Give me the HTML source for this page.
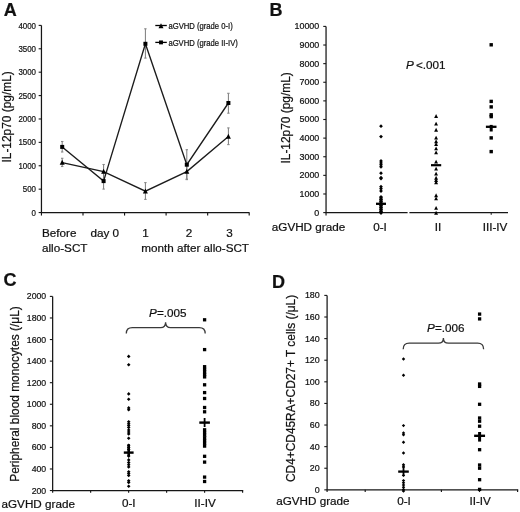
<!DOCTYPE html><html><head><meta charset="utf-8"><style>html,body{margin:0;padding:0;background:#fff;overflow:hidden;}svg{display:block;filter:grayscale(1);}text{font-family:"Liberation Sans",sans-serif;fill:#111;stroke:#111;stroke-width:0.22px;}</style></head><body>
<svg width="520" height="512" viewBox="0 0 520 512">
<rect width="520" height="512" fill="#fff"/>
<text x="3.70" y="15.80" font-size="18" text-anchor="start" font-weight="bold" font-style="normal" >A</text>
<line x1="41.45" y1="25.40" x2="41.45" y2="212.55" stroke="#161616" stroke-width="1.25"/>
<line x1="38.65" y1="212.55" x2="41.45" y2="212.55" stroke="#161616" stroke-width="1.1"/>
<text transform="translate(36.00,215.65) scale(0.87,1)" font-size="9.1" text-anchor="end">0</text>
<line x1="38.65" y1="189.16" x2="41.45" y2="189.16" stroke="#161616" stroke-width="1.1"/>
<text transform="translate(36.00,192.26) scale(0.87,1)" font-size="9.1" text-anchor="end">500</text>
<line x1="38.65" y1="165.76" x2="41.45" y2="165.76" stroke="#161616" stroke-width="1.1"/>
<text transform="translate(36.00,168.86) scale(0.87,1)" font-size="9.1" text-anchor="end">1000</text>
<line x1="38.65" y1="142.37" x2="41.45" y2="142.37" stroke="#161616" stroke-width="1.1"/>
<text transform="translate(36.00,145.47) scale(0.87,1)" font-size="9.1" text-anchor="end">1500</text>
<line x1="38.65" y1="118.98" x2="41.45" y2="118.98" stroke="#161616" stroke-width="1.1"/>
<text transform="translate(36.00,122.08) scale(0.87,1)" font-size="9.1" text-anchor="end">2000</text>
<line x1="38.65" y1="95.58" x2="41.45" y2="95.58" stroke="#161616" stroke-width="1.1"/>
<text transform="translate(36.00,98.68) scale(0.87,1)" font-size="9.1" text-anchor="end">2500</text>
<line x1="38.65" y1="72.19" x2="41.45" y2="72.19" stroke="#161616" stroke-width="1.1"/>
<text transform="translate(36.00,75.29) scale(0.87,1)" font-size="9.1" text-anchor="end">3000</text>
<line x1="38.65" y1="48.79" x2="41.45" y2="48.79" stroke="#161616" stroke-width="1.1"/>
<text transform="translate(36.00,51.89) scale(0.87,1)" font-size="9.1" text-anchor="end">3500</text>
<line x1="38.65" y1="25.40" x2="41.45" y2="25.40" stroke="#161616" stroke-width="1.1"/>
<text transform="translate(36.00,28.50) scale(0.87,1)" font-size="9.1" text-anchor="end">4000</text>
<line x1="40.85" y1="212.55" x2="249.40" y2="212.55" stroke="#161616" stroke-width="1.25"/>
<line x1="41.45" y1="212.55" x2="41.45" y2="215.55" stroke="#161616" stroke-width="1.15"/>
<line x1="83.00" y1="212.55" x2="83.00" y2="215.55" stroke="#161616" stroke-width="1.15"/>
<line x1="124.55" y1="212.55" x2="124.55" y2="215.55" stroke="#161616" stroke-width="1.15"/>
<line x1="166.10" y1="212.55" x2="166.10" y2="215.55" stroke="#161616" stroke-width="1.15"/>
<line x1="207.65" y1="212.55" x2="207.65" y2="215.55" stroke="#161616" stroke-width="1.15"/>
<line x1="249.20" y1="212.55" x2="249.20" y2="215.55" stroke="#161616" stroke-width="1.15"/>
<text x="0" y="0" font-size="11.9" text-anchor="middle" transform="translate(11.30,116.90) rotate(-90)">IL-12p70 (pg/mL)</text>
<text x="42.00" y="237.00" font-size="11.7" text-anchor="start" font-weight="normal" font-style="normal" >Before</text>
<text x="90.40" y="237.00" font-size="11.7" text-anchor="start" font-weight="normal" font-style="normal" >day 0</text>
<text x="145.50" y="237.00" font-size="11.7" text-anchor="middle" font-weight="normal" font-style="normal" >1</text>
<text x="189.00" y="237.00" font-size="11.7" text-anchor="middle" font-weight="normal" font-style="normal" >2</text>
<text x="229.50" y="237.00" font-size="11.7" text-anchor="middle" font-weight="normal" font-style="normal" >3</text>
<text x="42.00" y="251.50" font-size="11.7" text-anchor="start" font-weight="normal" font-style="normal" >allo-SCT</text>
<text x="141.20" y="251.50" font-size="11.7" text-anchor="start" font-weight="normal" font-style="normal" >month after allo-SCT</text>
<line x1="62.20" y1="141.50" x2="62.20" y2="152.00" stroke="#7a7a7a" stroke-width="1.0"/>
<line x1="61.00" y1="141.50" x2="63.40" y2="141.50" stroke="#888" stroke-width="1.1"/>
<line x1="61.00" y1="152.00" x2="63.40" y2="152.00" stroke="#888" stroke-width="1.1"/>
<line x1="62.20" y1="158.30" x2="62.20" y2="166.50" stroke="#7a7a7a" stroke-width="1.0"/>
<line x1="61.00" y1="158.30" x2="63.40" y2="158.30" stroke="#888" stroke-width="1.1"/>
<line x1="61.00" y1="166.50" x2="63.40" y2="166.50" stroke="#888" stroke-width="1.1"/>
<line x1="103.60" y1="173.00" x2="103.60" y2="189.10" stroke="#7a7a7a" stroke-width="1.0"/>
<line x1="102.40" y1="173.00" x2="104.80" y2="173.00" stroke="#888" stroke-width="1.1"/>
<line x1="102.40" y1="189.10" x2="104.80" y2="189.10" stroke="#888" stroke-width="1.1"/>
<line x1="103.60" y1="164.50" x2="103.60" y2="179.00" stroke="#7a7a7a" stroke-width="1.0"/>
<line x1="102.40" y1="164.50" x2="104.80" y2="164.50" stroke="#888" stroke-width="1.1"/>
<line x1="102.40" y1="179.00" x2="104.80" y2="179.00" stroke="#888" stroke-width="1.1"/>
<line x1="145.40" y1="28.80" x2="145.40" y2="58.10" stroke="#7a7a7a" stroke-width="1.0"/>
<line x1="144.20" y1="28.80" x2="146.60" y2="28.80" stroke="#888" stroke-width="1.1"/>
<line x1="144.20" y1="58.10" x2="146.60" y2="58.10" stroke="#888" stroke-width="1.1"/>
<line x1="145.40" y1="182.60" x2="145.40" y2="199.40" stroke="#7a7a7a" stroke-width="1.0"/>
<line x1="144.20" y1="182.60" x2="146.60" y2="182.60" stroke="#888" stroke-width="1.1"/>
<line x1="144.20" y1="199.40" x2="146.60" y2="199.40" stroke="#888" stroke-width="1.1"/>
<line x1="186.80" y1="149.70" x2="186.80" y2="179.60" stroke="#7a7a7a" stroke-width="1.0"/>
<line x1="185.60" y1="149.70" x2="188.00" y2="149.70" stroke="#888" stroke-width="1.1"/>
<line x1="185.60" y1="179.60" x2="188.00" y2="179.60" stroke="#888" stroke-width="1.1"/>
<line x1="186.80" y1="164.30" x2="186.80" y2="179.10" stroke="#7a7a7a" stroke-width="1.0"/>
<line x1="185.60" y1="164.30" x2="188.00" y2="164.30" stroke="#888" stroke-width="1.1"/>
<line x1="185.60" y1="179.10" x2="188.00" y2="179.10" stroke="#888" stroke-width="1.1"/>
<line x1="228.40" y1="93.30" x2="228.40" y2="113.20" stroke="#7a7a7a" stroke-width="1.0"/>
<line x1="227.20" y1="93.30" x2="229.60" y2="93.30" stroke="#888" stroke-width="1.1"/>
<line x1="227.20" y1="113.20" x2="229.60" y2="113.20" stroke="#888" stroke-width="1.1"/>
<line x1="228.40" y1="127.90" x2="228.40" y2="144.60" stroke="#7a7a7a" stroke-width="1.0"/>
<line x1="227.20" y1="127.90" x2="229.60" y2="127.90" stroke="#888" stroke-width="1.1"/>
<line x1="227.20" y1="144.60" x2="229.60" y2="144.60" stroke="#888" stroke-width="1.1"/>
<polyline points="62.20,146.90 103.60,181.10 145.40,43.80 186.80,164.70 228.40,103.00" fill="none" stroke="#1c1c1c" stroke-width="1.35" stroke-linejoin="miter"/>
<polyline points="62.20,162.60 103.60,171.60 145.40,191.20 186.80,171.60 228.40,136.60" fill="none" stroke="#1c1c1c" stroke-width="1.35"/>
<rect x="60.20" y="144.90" width="4.0" height="4.0" fill="#000"/>
<rect x="101.60" y="179.10" width="4.0" height="4.0" fill="#000"/>
<rect x="143.40" y="41.80" width="4.0" height="4.0" fill="#000"/>
<rect x="184.80" y="162.70" width="4.0" height="4.0" fill="#000"/>
<rect x="226.40" y="101.00" width="4.0" height="4.0" fill="#000"/>
<path d="M62.20 159.85L64.70 164.85L59.70 164.85Z" fill="#000"/>
<path d="M103.60 168.85L106.10 173.85L101.10 173.85Z" fill="#000"/>
<path d="M145.40 188.45L147.90 193.45L142.90 193.45Z" fill="#000"/>
<path d="M186.80 168.85L189.30 173.85L184.30 173.85Z" fill="#000"/>
<path d="M228.40 133.85L230.90 138.85L225.90 138.85Z" fill="#000"/>
<line x1="155.30" y1="25.50" x2="166.80" y2="25.50" stroke="#000" stroke-width="1.3"/>
<path d="M161.00 23.25L163.50 28.25L158.50 28.25Z" fill="#000"/>
<text x="168.40" y="29.20" font-size="8.8" text-anchor="start" font-weight="normal" font-style="normal" textLength="64.4" lengthAdjust="spacingAndGlyphs">aGVHD (grade 0-I)</text>
<line x1="155.30" y1="42.40" x2="166.80" y2="42.40" stroke="#000" stroke-width="1.3"/>
<rect x="159.05" y="40.45" width="3.9" height="3.9" fill="#000"/>
<text x="168.40" y="46.00" font-size="8.8" text-anchor="start" font-weight="normal" font-style="normal" textLength="69.4" lengthAdjust="spacingAndGlyphs">aGVHD (grade II-IV)</text>
<text x="269.60" y="15.90" font-size="18" text-anchor="start" font-weight="bold" font-style="normal" >B</text>
<line x1="326.05" y1="26.40" x2="326.05" y2="212.60" stroke="#161616" stroke-width="1.25"/>
<line x1="323.25" y1="212.60" x2="326.05" y2="212.60" stroke="#161616" stroke-width="1.1"/>
<text transform="translate(319.30,215.50) scale(0.96,1)" font-size="9.3" text-anchor="end">0</text>
<line x1="323.25" y1="193.98" x2="326.05" y2="193.98" stroke="#161616" stroke-width="1.1"/>
<text transform="translate(319.30,196.88) scale(0.96,1)" font-size="9.3" text-anchor="end">1000</text>
<line x1="323.25" y1="175.36" x2="326.05" y2="175.36" stroke="#161616" stroke-width="1.1"/>
<text transform="translate(319.30,178.26) scale(0.96,1)" font-size="9.3" text-anchor="end">2000</text>
<line x1="323.25" y1="156.74" x2="326.05" y2="156.74" stroke="#161616" stroke-width="1.1"/>
<text transform="translate(319.30,159.64) scale(0.96,1)" font-size="9.3" text-anchor="end">3000</text>
<line x1="323.25" y1="138.12" x2="326.05" y2="138.12" stroke="#161616" stroke-width="1.1"/>
<text transform="translate(319.30,141.02) scale(0.96,1)" font-size="9.3" text-anchor="end">4000</text>
<line x1="323.25" y1="119.50" x2="326.05" y2="119.50" stroke="#161616" stroke-width="1.1"/>
<text transform="translate(319.30,122.40) scale(0.96,1)" font-size="9.3" text-anchor="end">5000</text>
<line x1="323.25" y1="100.88" x2="326.05" y2="100.88" stroke="#161616" stroke-width="1.1"/>
<text transform="translate(319.30,103.78) scale(0.96,1)" font-size="9.3" text-anchor="end">6000</text>
<line x1="323.25" y1="82.26" x2="326.05" y2="82.26" stroke="#161616" stroke-width="1.1"/>
<text transform="translate(319.30,85.16) scale(0.96,1)" font-size="9.3" text-anchor="end">7000</text>
<line x1="323.25" y1="63.64" x2="326.05" y2="63.64" stroke="#161616" stroke-width="1.1"/>
<text transform="translate(319.30,66.54) scale(0.96,1)" font-size="9.3" text-anchor="end">8000</text>
<line x1="323.25" y1="45.02" x2="326.05" y2="45.02" stroke="#161616" stroke-width="1.1"/>
<text transform="translate(319.30,47.92) scale(0.96,1)" font-size="9.3" text-anchor="end">9000</text>
<line x1="323.25" y1="26.40" x2="326.05" y2="26.40" stroke="#161616" stroke-width="1.1"/>
<text transform="translate(319.30,29.30) scale(0.96,1)" font-size="9.3" text-anchor="end">10000</text>
<line x1="325.45" y1="212.60" x2="407.60" y2="212.60" stroke="#161616" stroke-width="1.25"/>
<line x1="409.40" y1="212.60" x2="508.00" y2="212.60" stroke="#161616" stroke-width="1.25"/>
<line x1="326.05" y1="212.60" x2="326.05" y2="215.60" stroke="#161616" stroke-width="1.15"/>
<line x1="491.20" y1="212.60" x2="491.20" y2="214.80" stroke="#161616" stroke-width="1.0"/>
<text x="0" y="0" font-size="11.9" text-anchor="middle" transform="translate(290.00,117.90) rotate(-90)">IL-12p70 (pg/mL)</text>
<text x="271.80" y="231.20" font-size="11.7" text-anchor="start" font-weight="normal" font-style="normal" >aGVHD grade</text>
<text x="380.00" y="231.20" font-size="11.7" text-anchor="middle" font-weight="normal" font-style="normal" >0-I</text>
<text x="438.00" y="231.20" font-size="11.7" text-anchor="middle" font-weight="normal" font-style="normal" >II</text>
<text x="495.00" y="231.20" font-size="11.7" text-anchor="middle" font-weight="normal" font-style="normal" >III-IV</text>
<text x="405.90" y="69.00" font-size="11.7" text-anchor="start" font-weight="normal" font-style="italic" >P</text>
<text x="416.00" y="69.00" font-size="11.7" text-anchor="start" font-weight="normal" font-style="normal" >&lt;.001</text>
<path d="M381.00 124.30L382.90 126.20L381.00 128.10L379.10 126.20Z" fill="#000"/>
<path d="M381.00 134.70L382.90 136.60L381.00 138.50L379.10 136.60Z" fill="#000"/>
<path d="M381.00 159.10L382.90 161.00L381.00 162.90L379.10 161.00Z" fill="#000"/>
<path d="M381.00 161.00L382.90 162.90L381.00 164.80L379.10 162.90Z" fill="#000"/>
<path d="M381.00 162.90L382.90 164.80L381.00 166.70L379.10 164.80Z" fill="#000"/>
<path d="M381.00 164.90L382.90 166.80L381.00 168.70L379.10 166.80Z" fill="#000"/>
<path d="M381.00 171.30L382.90 173.20L381.00 175.10L379.10 173.20Z" fill="#000"/>
<path d="M381.00 175.80L382.90 177.70L381.00 179.60L379.10 177.70Z" fill="#000"/>
<path d="M381.00 176.70L382.90 178.60L381.00 180.50L379.10 178.60Z" fill="#000"/>
<path d="M381.00 184.80L382.90 186.70L381.00 188.60L379.10 186.70Z" fill="#000"/>
<path d="M381.00 186.80L382.90 188.70L381.00 190.60L379.10 188.70Z" fill="#000"/>
<path d="M381.00 189.10L382.90 191.00L381.00 192.90L379.10 191.00Z" fill="#000"/>
<path d="M381.00 195.10L382.90 197.00L381.00 198.90L379.10 197.00Z" fill="#000"/>
<path d="M381.00 197.60L382.90 199.50L381.00 201.40L379.10 199.50Z" fill="#000"/>
<path d="M381.00 199.60L382.90 201.50L381.00 203.40L379.10 201.50Z" fill="#000"/>
<path d="M381.00 201.60L382.90 203.50L381.00 205.40L379.10 203.50Z" fill="#000"/>
<path d="M381.00 203.60L382.90 205.50L381.00 207.40L379.10 205.50Z" fill="#000"/>
<path d="M381.00 205.60L382.90 207.50L381.00 209.40L379.10 207.50Z" fill="#000"/>
<path d="M381.00 207.60L382.90 209.50L381.00 211.40L379.10 209.50Z" fill="#000"/>
<path d="M381.00 209.60L382.90 211.50L381.00 213.40L379.10 211.50Z" fill="#000"/>
<path d="M381.00 211.10L382.90 213.00L381.00 214.90L379.10 213.00Z" fill="#000"/>
<rect x="376.00" y="202.65" width="10.0" height="2.3" fill="#000"/>
<rect x="379.50" y="196.6" width="3.0" height="16.4" fill="#000"/>
<path d="M436.10 114.06L438.05 117.95L434.15 117.95Z" fill="#000"/>
<path d="M436.10 121.66L438.05 125.55L434.15 125.55Z" fill="#000"/>
<path d="M436.10 127.86L438.05 131.75L434.15 131.75Z" fill="#000"/>
<path d="M436.10 135.66L438.05 139.56L434.15 139.56Z" fill="#000"/>
<path d="M436.10 139.35L438.05 143.25L434.15 143.25Z" fill="#000"/>
<path d="M436.10 142.05L438.05 145.95L434.15 145.95Z" fill="#000"/>
<path d="M436.10 146.45L438.05 150.35L434.15 150.35Z" fill="#000"/>
<path d="M436.10 150.45L438.05 154.35L434.15 154.35Z" fill="#000"/>
<path d="M436.10 159.66L438.05 163.56L434.15 163.56Z" fill="#000"/>
<path d="M436.10 166.66L438.05 170.56L434.15 170.56Z" fill="#000"/>
<path d="M436.10 171.66L438.05 175.56L434.15 175.56Z" fill="#000"/>
<path d="M436.10 175.85L438.05 179.75L434.15 179.75Z" fill="#000"/>
<path d="M436.10 178.05L438.05 181.95L434.15 181.95Z" fill="#000"/>
<path d="M436.10 180.25L438.05 184.16L434.15 184.16Z" fill="#000"/>
<path d="M436.10 193.25L438.05 197.16L434.15 197.16Z" fill="#000"/>
<path d="M436.10 196.45L438.05 200.35L434.15 200.35Z" fill="#000"/>
<path d="M436.10 205.95L438.05 209.85L434.15 209.85Z" fill="#000"/>
<path d="M436.10 210.85L438.05 214.75L434.15 214.75Z" fill="#000"/>
<rect x="431.00" y="164.10" width="10.2" height="2.2" fill="#000"/>
<rect x="489.50" y="43.10" width="3.4" height="3.4" fill="#000"/>
<rect x="489.50" y="99.70" width="3.4" height="3.4" fill="#000"/>
<rect x="489.50" y="105.20" width="3.4" height="3.4" fill="#000"/>
<rect x="489.50" y="113.10" width="3.4" height="3.4" fill="#000"/>
<rect x="489.50" y="114.90" width="3.4" height="3.4" fill="#000"/>
<rect x="489.50" y="136.20" width="3.4" height="3.4" fill="#000"/>
<rect x="489.50" y="149.90" width="3.4" height="3.4" fill="#000"/>
<rect x="485.90" y="125.65" width="10.6" height="2.3" fill="#000"/>
<rect x="489.70" y="124.9" width="3.0" height="6.6" fill="#000"/>
<text x="3.60" y="286.30" font-size="18" text-anchor="start" font-weight="bold" font-style="normal" >C</text>
<line x1="52.65" y1="296.40" x2="52.65" y2="490.55" stroke="#161616" stroke-width="1.25"/>
<line x1="49.85" y1="490.55" x2="52.65" y2="490.55" stroke="#161616" stroke-width="1.1"/>
<text transform="translate(46.20,493.55) scale(0.9,1)" font-size="9.7" text-anchor="end">200</text>
<line x1="49.85" y1="468.98" x2="52.65" y2="468.98" stroke="#161616" stroke-width="1.1"/>
<text transform="translate(46.20,471.98) scale(0.9,1)" font-size="9.7" text-anchor="end">400</text>
<line x1="49.85" y1="447.41" x2="52.65" y2="447.41" stroke="#161616" stroke-width="1.1"/>
<text transform="translate(46.20,450.41) scale(0.9,1)" font-size="9.7" text-anchor="end">600</text>
<line x1="49.85" y1="425.83" x2="52.65" y2="425.83" stroke="#161616" stroke-width="1.1"/>
<text transform="translate(46.20,428.83) scale(0.9,1)" font-size="9.7" text-anchor="end">800</text>
<line x1="49.85" y1="404.26" x2="52.65" y2="404.26" stroke="#161616" stroke-width="1.1"/>
<text transform="translate(46.20,407.26) scale(0.9,1)" font-size="9.7" text-anchor="end">1000</text>
<line x1="49.85" y1="382.69" x2="52.65" y2="382.69" stroke="#161616" stroke-width="1.1"/>
<text transform="translate(46.20,385.69) scale(0.9,1)" font-size="9.7" text-anchor="end">1200</text>
<line x1="49.85" y1="361.12" x2="52.65" y2="361.12" stroke="#161616" stroke-width="1.1"/>
<text transform="translate(46.20,364.12) scale(0.9,1)" font-size="9.7" text-anchor="end">1400</text>
<line x1="49.85" y1="339.54" x2="52.65" y2="339.54" stroke="#161616" stroke-width="1.1"/>
<text transform="translate(46.20,342.54) scale(0.9,1)" font-size="9.7" text-anchor="end">1600</text>
<line x1="49.85" y1="317.97" x2="52.65" y2="317.97" stroke="#161616" stroke-width="1.1"/>
<text transform="translate(46.20,320.97) scale(0.9,1)" font-size="9.7" text-anchor="end">1800</text>
<line x1="49.85" y1="296.40" x2="52.65" y2="296.40" stroke="#161616" stroke-width="1.1"/>
<text transform="translate(46.20,299.40) scale(0.9,1)" font-size="9.7" text-anchor="end">2000</text>
<line x1="52.05" y1="490.55" x2="243.20" y2="490.55" stroke="#161616" stroke-width="1.25"/>
<line x1="52.65" y1="490.55" x2="52.65" y2="492.75" stroke="#161616" stroke-width="1.15"/>
<line x1="90.64" y1="490.55" x2="90.64" y2="492.75" stroke="#161616" stroke-width="1.15"/>
<line x1="128.63" y1="490.55" x2="128.63" y2="492.75" stroke="#161616" stroke-width="1.15"/>
<line x1="166.62" y1="490.55" x2="166.62" y2="492.75" stroke="#161616" stroke-width="1.15"/>
<line x1="204.61" y1="490.55" x2="204.61" y2="492.75" stroke="#161616" stroke-width="1.15"/>
<line x1="242.60" y1="490.55" x2="242.60" y2="492.75" stroke="#161616" stroke-width="1.15"/>
<text x="0" y="0" font-size="11.9" text-anchor="middle" transform="translate(18.90,394.00) rotate(-90)">Peripheral blood monocytes (/&#956;L)</text>
<text x="1.50" y="507.50" font-size="11.7" text-anchor="start" font-weight="normal" font-style="normal" >aGVHD grade</text>
<text x="128.70" y="507.20" font-size="11.7" text-anchor="middle" font-weight="normal" font-style="normal" >0-I</text>
<text x="205.00" y="507.20" font-size="11.7" text-anchor="middle" font-weight="normal" font-style="normal" >II-IV</text>
<text x="149.10" y="317.00" font-size="11.7" text-anchor="start" font-weight="normal" font-style="italic" >P</text>
<text x="157.00" y="317.00" font-size="11.7" text-anchor="start" font-weight="normal" font-style="normal" >=.005</text>
<path d="M126.30 333.40 Q126.30 327.60 132.30 327.60 L160.60 327.60 Q165.60 327.60 165.60 322.20 Q165.60 327.60 170.60 327.60 L199.20 327.60 Q205.20 327.60 205.20 333.40" fill="none" stroke="#3a3a3a" stroke-width="1.3"/>
<path d="M128.70 354.60L130.50 356.40L128.70 358.20L126.90 356.40Z" fill="#000"/>
<path d="M128.70 362.90L130.50 364.70L128.70 366.50L126.90 364.70Z" fill="#000"/>
<path d="M128.70 392.10L130.50 393.90L128.70 395.70L126.90 393.90Z" fill="#000"/>
<path d="M128.70 397.40L130.50 399.20L128.70 401.00L126.90 399.20Z" fill="#000"/>
<path d="M128.70 406.10L130.50 407.90L128.70 409.70L126.90 407.90Z" fill="#000"/>
<path d="M128.70 408.00L130.50 409.80L128.70 411.60L126.90 409.80Z" fill="#000"/>
<path d="M128.70 420.00L130.50 421.80L128.70 423.60L126.90 421.80Z" fill="#000"/>
<path d="M128.70 421.90L130.50 423.70L128.70 425.50L126.90 423.70Z" fill="#000"/>
<path d="M128.70 423.80L130.50 425.60L128.70 427.40L126.90 425.60Z" fill="#000"/>
<path d="M128.70 425.70L130.50 427.50L128.70 429.30L126.90 427.50Z" fill="#000"/>
<path d="M128.70 428.20L130.50 430.00L128.70 431.80L126.90 430.00Z" fill="#000"/>
<path d="M128.70 430.20L130.50 432.00L128.70 433.80L126.90 432.00Z" fill="#000"/>
<path d="M128.70 432.10L130.50 433.90L128.70 435.70L126.90 433.90Z" fill="#000"/>
<path d="M128.70 436.50L130.50 438.30L128.70 440.10L126.90 438.30Z" fill="#000"/>
<path d="M128.70 443.50L130.50 445.30L128.70 447.10L126.90 445.30Z" fill="#000"/>
<path d="M128.70 445.70L130.50 447.50L128.70 449.30L126.90 447.50Z" fill="#000"/>
<path d="M128.70 447.80L130.50 449.60L128.70 451.40L126.90 449.60Z" fill="#000"/>
<path d="M128.70 454.30L130.50 456.10L128.70 457.90L126.90 456.10Z" fill="#000"/>
<path d="M128.70 458.10L130.50 459.90L128.70 461.70L126.90 459.90Z" fill="#000"/>
<path d="M128.70 460.80L130.50 462.60L128.70 464.40L126.90 462.60Z" fill="#000"/>
<path d="M128.70 462.90L130.50 464.70L128.70 466.50L126.90 464.70Z" fill="#000"/>
<path d="M128.70 465.10L130.50 466.90L128.70 468.70L126.90 466.90Z" fill="#000"/>
<path d="M128.70 469.90L130.50 471.70L128.70 473.50L126.90 471.70Z" fill="#000"/>
<path d="M128.70 471.70L130.50 473.50L128.70 475.30L126.90 473.50Z" fill="#000"/>
<path d="M128.70 473.60L130.50 475.40L128.70 477.20L126.90 475.40Z" fill="#000"/>
<path d="M128.70 479.00L130.50 480.80L128.70 482.60L126.90 480.80Z" fill="#000"/>
<path d="M128.70 480.60L130.50 482.40L128.70 484.20L126.90 482.40Z" fill="#000"/>
<path d="M128.70 484.40L130.50 486.20L128.70 488.00L126.90 486.20Z" fill="#000"/>
<rect x="123.80" y="451.40" width="9.8" height="2.4" fill="#000"/>
<rect x="127.40" y="444.4" width="2.6" height="12" fill="#000"/>
<rect x="202.95" y="318.15" width="3.3" height="3.3" fill="#000"/>
<rect x="202.95" y="347.95" width="3.3" height="3.3" fill="#000"/>
<rect x="202.95" y="365.05" width="3.3" height="3.3" fill="#000"/>
<rect x="202.95" y="367.75" width="3.3" height="3.3" fill="#000"/>
<rect x="202.95" y="370.35" width="3.3" height="3.3" fill="#000"/>
<rect x="202.95" y="372.85" width="3.3" height="3.3" fill="#000"/>
<rect x="202.95" y="375.25" width="3.3" height="3.3" fill="#000"/>
<rect x="202.95" y="383.15" width="3.3" height="3.3" fill="#000"/>
<rect x="202.95" y="390.95" width="3.3" height="3.3" fill="#000"/>
<rect x="202.95" y="396.85" width="3.3" height="3.3" fill="#000"/>
<rect x="202.95" y="405.85" width="3.3" height="3.3" fill="#000"/>
<rect x="202.95" y="410.15" width="3.3" height="3.3" fill="#000"/>
<rect x="202.95" y="428.15" width="3.3" height="3.3" fill="#000"/>
<rect x="202.95" y="430.85" width="3.3" height="3.3" fill="#000"/>
<rect x="202.95" y="433.55" width="3.3" height="3.3" fill="#000"/>
<rect x="202.95" y="436.25" width="3.3" height="3.3" fill="#000"/>
<rect x="202.95" y="438.95" width="3.3" height="3.3" fill="#000"/>
<rect x="202.95" y="441.65" width="3.3" height="3.3" fill="#000"/>
<rect x="202.95" y="444.45" width="3.3" height="3.3" fill="#000"/>
<rect x="202.95" y="454.65" width="3.3" height="3.3" fill="#000"/>
<rect x="202.95" y="460.45" width="3.3" height="3.3" fill="#000"/>
<rect x="202.95" y="475.45" width="3.3" height="3.3" fill="#000"/>
<rect x="202.95" y="479.85" width="3.3" height="3.3" fill="#000"/>
<rect x="199.30" y="421.40" width="10.6" height="2.4" fill="#000"/>
<rect x="203.70" y="418" width="1.8" height="9" fill="#000"/>
<text x="272.10" y="288.20" font-size="18" text-anchor="start" font-weight="bold" font-style="normal" >D</text>
<line x1="327.10" y1="295.40" x2="327.10" y2="489.85" stroke="#161616" stroke-width="1.25"/>
<line x1="324.30" y1="489.85" x2="327.10" y2="489.85" stroke="#161616" stroke-width="1.1"/>
<text transform="translate(319.80,492.85) scale(0.93,1)" font-size="9.6" text-anchor="end">0</text>
<line x1="324.30" y1="468.24" x2="327.10" y2="468.24" stroke="#161616" stroke-width="1.1"/>
<text transform="translate(319.80,471.24) scale(0.93,1)" font-size="9.6" text-anchor="end">20</text>
<line x1="324.30" y1="446.64" x2="327.10" y2="446.64" stroke="#161616" stroke-width="1.1"/>
<text transform="translate(319.80,449.64) scale(0.93,1)" font-size="9.6" text-anchor="end">40</text>
<line x1="324.30" y1="425.03" x2="327.10" y2="425.03" stroke="#161616" stroke-width="1.1"/>
<text transform="translate(319.80,428.03) scale(0.93,1)" font-size="9.6" text-anchor="end">60</text>
<line x1="324.30" y1="403.43" x2="327.10" y2="403.43" stroke="#161616" stroke-width="1.1"/>
<text transform="translate(319.80,406.43) scale(0.93,1)" font-size="9.6" text-anchor="end">80</text>
<line x1="324.30" y1="381.82" x2="327.10" y2="381.82" stroke="#161616" stroke-width="1.1"/>
<text transform="translate(319.80,384.82) scale(0.93,1)" font-size="9.6" text-anchor="end">100</text>
<line x1="324.30" y1="360.22" x2="327.10" y2="360.22" stroke="#161616" stroke-width="1.1"/>
<text transform="translate(319.80,363.22) scale(0.93,1)" font-size="9.6" text-anchor="end">120</text>
<line x1="324.30" y1="338.61" x2="327.10" y2="338.61" stroke="#161616" stroke-width="1.1"/>
<text transform="translate(319.80,341.61) scale(0.93,1)" font-size="9.6" text-anchor="end">140</text>
<line x1="324.30" y1="317.01" x2="327.10" y2="317.01" stroke="#161616" stroke-width="1.1"/>
<text transform="translate(319.80,320.01) scale(0.93,1)" font-size="9.6" text-anchor="end">160</text>
<line x1="324.30" y1="295.40" x2="327.10" y2="295.40" stroke="#161616" stroke-width="1.1"/>
<text transform="translate(319.80,298.40) scale(0.93,1)" font-size="9.6" text-anchor="end">180</text>
<line x1="326.50" y1="489.85" x2="518.20" y2="489.85" stroke="#161616" stroke-width="1.25"/>
<line x1="327.10" y1="489.85" x2="327.10" y2="492.05" stroke="#161616" stroke-width="1.15"/>
<line x1="365.20" y1="489.85" x2="365.20" y2="492.05" stroke="#161616" stroke-width="1.15"/>
<line x1="403.30" y1="489.85" x2="403.30" y2="492.05" stroke="#161616" stroke-width="1.15"/>
<line x1="441.40" y1="489.85" x2="441.40" y2="492.05" stroke="#161616" stroke-width="1.15"/>
<line x1="479.50" y1="489.85" x2="479.50" y2="492.05" stroke="#161616" stroke-width="1.15"/>
<line x1="517.60" y1="489.85" x2="517.60" y2="492.05" stroke="#161616" stroke-width="1.15"/>
<text x="0" y="0" font-size="11.9" text-anchor="middle" transform="translate(294.60,388.45) rotate(-90)">CD4+CD45RA+CD27+ T cells (/&#956;L)</text>
<text x="276.20" y="505.40" font-size="11.7" text-anchor="start" font-weight="normal" font-style="normal" >aGVHD grade</text>
<text x="404.00" y="505.40" font-size="11.7" text-anchor="middle" font-weight="normal" font-style="normal" >0-I</text>
<text x="480.20" y="505.40" font-size="11.7" text-anchor="middle" font-weight="normal" font-style="normal" >II-IV</text>
<text x="427.00" y="331.60" font-size="11.7" text-anchor="start" font-weight="normal" font-style="italic" >P</text>
<text x="435.00" y="331.60" font-size="11.7" text-anchor="start" font-weight="normal" font-style="normal" >=.006</text>
<path d="M403.20 349.30 Q403.20 343.20 409.20 343.20 L438.40 343.20 Q443.40 343.20 443.40 337.90 Q443.40 343.20 448.40 343.20 L477.60 343.20 Q483.60 343.20 483.60 349.30" fill="none" stroke="#3a3a3a" stroke-width="1.3"/>
<path d="M403.50 357.30L405.20 359.00L403.50 360.70L401.80 359.00Z" fill="#000"/>
<path d="M403.50 373.50L405.20 375.20L403.50 376.90L401.80 375.20Z" fill="#000"/>
<path d="M403.50 423.90L405.20 425.60L403.50 427.30L401.80 425.60Z" fill="#000"/>
<path d="M403.50 431.20L405.20 432.90L403.50 434.60L401.80 432.90Z" fill="#000"/>
<path d="M403.50 433.10L405.20 434.80L403.50 436.50L401.80 434.80Z" fill="#000"/>
<path d="M403.50 440.60L405.20 442.30L403.50 444.00L401.80 442.30Z" fill="#000"/>
<path d="M403.50 451.30L405.20 453.00L403.50 454.70L401.80 453.00Z" fill="#000"/>
<path d="M403.50 463.00L405.20 464.70L403.50 466.40L401.80 464.70Z" fill="#000"/>
<path d="M403.50 465.20L405.20 466.90L403.50 468.60L401.80 466.90Z" fill="#000"/>
<path d="M403.50 473.70L405.20 475.40L403.50 477.10L401.80 475.40Z" fill="#000"/>
<path d="M403.50 478.90L405.20 480.60L403.50 482.30L401.80 480.60Z" fill="#000"/>
<path d="M403.50 481.10L405.20 482.80L403.50 484.50L401.80 482.80Z" fill="#000"/>
<path d="M403.50 483.30L405.20 485.00L403.50 486.70L401.80 485.00Z" fill="#000"/>
<path d="M403.50 485.50L405.20 487.20L403.50 488.90L401.80 487.20Z" fill="#000"/>
<path d="M403.50 487.70L405.20 489.40L403.50 491.10L401.80 489.40Z" fill="#000"/>
<path d="M403.50 489.30L405.20 491.00L403.50 492.70L401.80 491.00Z" fill="#000"/>
<rect x="398.20" y="470.45" width="10.6" height="2.3" fill="#000"/>
<rect x="402.60" y="465" width="1.8" height="11" fill="#000"/>
<rect x="477.95" y="312.45" width="3.3" height="3.3" fill="#000"/>
<rect x="477.95" y="317.25" width="3.3" height="3.3" fill="#000"/>
<rect x="477.95" y="382.35" width="3.3" height="3.3" fill="#000"/>
<rect x="477.95" y="384.75" width="3.3" height="3.3" fill="#000"/>
<rect x="477.95" y="402.65" width="3.3" height="3.3" fill="#000"/>
<rect x="477.95" y="416.35" width="3.3" height="3.3" fill="#000"/>
<rect x="477.95" y="419.55" width="3.3" height="3.3" fill="#000"/>
<rect x="477.95" y="424.55" width="3.3" height="3.3" fill="#000"/>
<rect x="477.95" y="448.05" width="3.3" height="3.3" fill="#000"/>
<rect x="477.95" y="463.35" width="3.3" height="3.3" fill="#000"/>
<rect x="477.95" y="466.55" width="3.3" height="3.3" fill="#000"/>
<rect x="477.95" y="478.05" width="3.3" height="3.3" fill="#000"/>
<rect x="477.95" y="487.75" width="3.3" height="3.3" fill="#000"/>
<rect x="474.15" y="434.60" width="10.9" height="2.4" fill="#000"/>
<rect x="478.10" y="432" width="3.0" height="9.6" fill="#000"/>
</svg></body></html>
